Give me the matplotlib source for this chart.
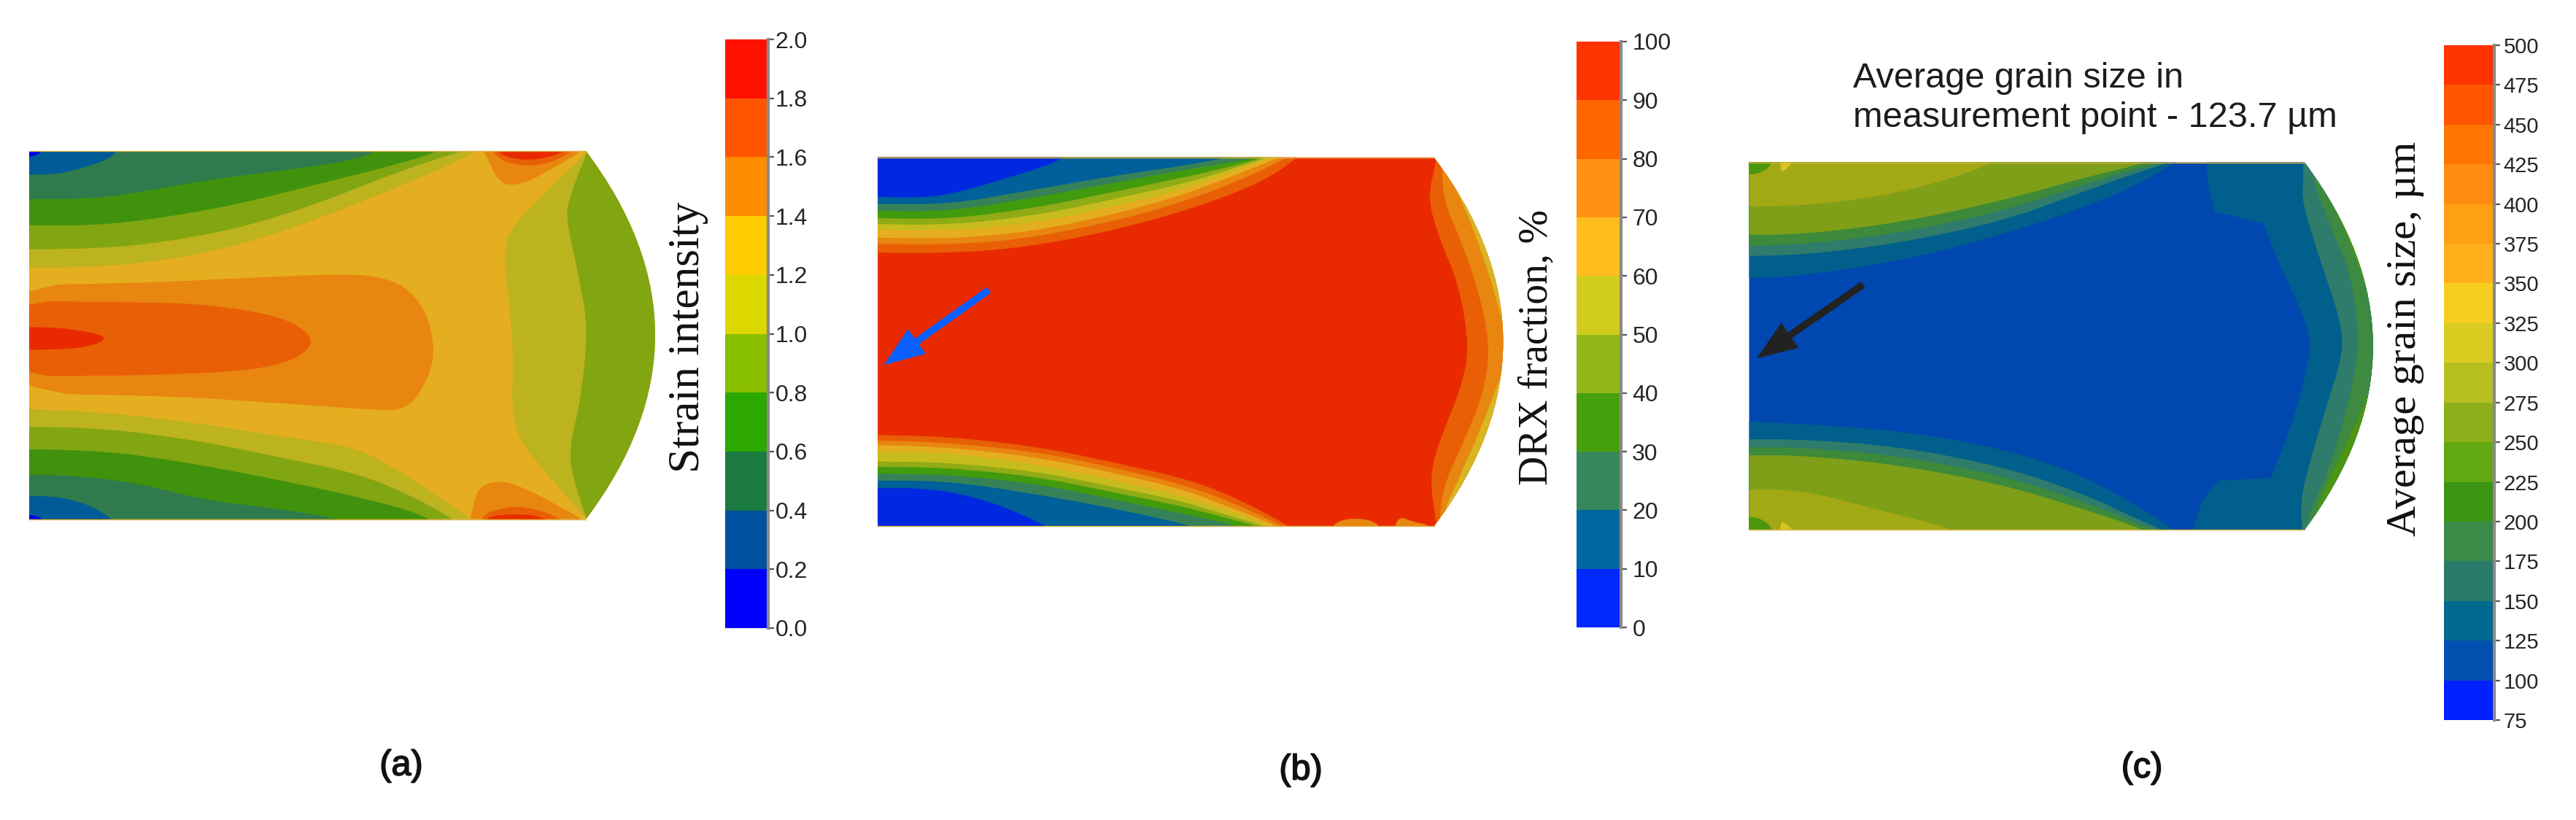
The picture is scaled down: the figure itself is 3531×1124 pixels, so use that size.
from __future__ import annotations

import matplotlib

matplotlib.use("Agg")

import matplotlib.patheffects as effects
import matplotlib.pyplot as plt
import numpy as np
from matplotlib.colors import ListedColormap
from matplotlib.patches import PathPatch, Polygon
from matplotlib.path import Path

WIDTH = 3531
HEIGHT = 1124
SANS = ["Liberation Sans", "DejaVu Sans"]
SERIF = ["Liberation Serif", "DejaVu Serif"]

RED = "#E92A00"
DK_ORANGE = "#E95F05"
ORANGE = "#E8860F"
YEL_ORANGE = "#E5AE20"
OLIVE = "#BDB31E"
OL_GREEN = "#82A512"
GREEN = "#40920C"
TEAL = "#2F7B4E"
BLUE = "#005B96"
DEEP_BLUE = "#0000F0"

# colour bars, listed from the lowest bin up
A_LEVELS = [0.0, 0.2, 0.4, 0.6, 0.8, 1.0, 1.2, 1.4, 1.6, 1.8, 2.0]
A_BAR_COLORS = ["#0000FF", "#0050A0", "#1A7A40", "#2CA800", "#88C000",
                "#DDD800", "#FFCC00", "#FF8C00", "#FF5500", "#FF1100"]
B_LEVELS = [0, 10, 20, 30, 40, 50, 60, 70, 80, 90, 100]
B_BAR_COLORS = ["#0028FF", "#0068A0", "#36885A", "#46A00C", "#92B818",
                "#D2CC1E", "#FFBE1E", "#FF9212", "#FF6600", "#FF3300"]
C_LEVELS = [75, 100, 125, 150, 175, 200, 225, 250, 275, 300, 325, 350, 375,
            400, 425, 450, 475, 500]
C_BAR_COLORS = ["#0020FF", "#0050B0", "#006A90", "#2A7A6A", "#3A8A48",
                "#3A9515", "#62A812", "#8CAF1A", "#B5C020", "#D9CB20",
                "#F5CE20", "#FFB01A", "#FFA015", "#FF8C10", "#FF7500",
                "#FF5500", "#FF3300"]

# panel outlines: left, top, right, bottom, apex of the curved end
A_OUTLINE = [57, 97, 1145, 1138, 1280]
B_OUTLINE = [33, 115, 1120, 1158, 1255]
C_OUTLINE = [24, 292, 1062, 1098, 1190]

# panel (a), contours
A_BASE = YEL_ORANGE
A_TOP_COLORS = [OLIVE, OL_GREEN, GREEN, TEAL, BLUE, DEEP_BLUE]
A_TOP_CURVES = [
    [(0, 428), (180, 425), (300, 410), (450, 370), (600, 300), (750, 215), (880, 135), (928, 97), (950, 60)],
    [(0, 375), (200, 372), (330, 352), (480, 310), (620, 245), (760, 165), (860, 115), (905, 97), (930, 60)],
    [(0, 305), (180, 308), (320, 285), (470, 245), (620, 190), (760, 140), (860, 97), (890, 60)],
    [(0, 232), (190, 232), (300, 205), (420, 175), (560, 150), (680, 125), (740, 97), (770, 60)],
    [(0, 160), (100, 165), (160, 145), (210, 120), (230, 97), (240, 60)],
    [(0, 115), (60, 115), (85, 97), (95, 60)],
]
A_BOTTOM_COLORS = [OLIVE, OL_GREEN, GREEN, TEAL, BLUE, DEEP_BLUE]
A_BOTTOM_CURVES = [
    [(0, 825), (200, 835), (400, 870), (550, 905), (700, 935), (800, 1020), (880, 1100), (920, 1138), (950, 1180)],
    [(0, 878), (200, 880), (400, 920), (550, 965), (700, 1010), (800, 1070), (885, 1138), (920, 1180)],
    [(0, 940), (200, 945), (350, 975), (500, 1015), (650, 1060), (780, 1105), (840, 1138), (880, 1180)],
    [(0, 1012), (150, 1015), (280, 1040), (400, 1085), (520, 1105), (670, 1138), (720, 1180)],
    [(0, 1075), (100, 1072), (170, 1095), (220, 1138), (240, 1180)],
    [(0, 1125), (60, 1125), (85, 1138), (95, 1180)],
]
A_RIGHT_COLORS = [OLIVE, OL_GREEN]
A_RIGHT_CURVES = [
    [(1190, 40), (1145, 105), (1060, 220), (990, 330), (985, 420), (995, 520), (1005, 700), (1000, 800), (1010, 900), (1045, 970), (1145, 1135), (1190, 1200)],
    [(1160, 40), (1145, 110), (1110, 240), (1108, 300), (1130, 440), (1150, 600), (1135, 800), (1113, 940), (1118, 1010), (1145, 1130), (1160, 1200)],
]
A_BLOB_COLORS = [ORANGE, DK_ORANGE, RED, ORANGE, DK_ORANGE, RED, ORANGE, DK_ORANGE, RED]
A_BLOBS = [
    [(0, 478), (300, 470), (500, 455), (680, 445), (750, 455), (800, 490), (835, 560), (848, 650), (842, 720), (812, 800), (780, 830), (730, 828), (550, 810), (350, 790), (0, 780)],
    [(0, 522), (250, 525), (400, 530), (550, 565), (610, 620), (602, 660), (560, 695), (470, 720), (250, 732), (0, 732)],
    [(0, 598), (100, 595), (170, 608), (212, 625), (175, 650), (100, 659), (0, 657)],
    [(935, 60), (950, 110), (970, 170), (990, 195), (1030, 185), (1080, 145), (1145, 90), (1145, 60)],
    [(955, 70), (965, 105), (990, 130), (1040, 140), (1090, 122), (1135, 80)],
    [(960, 70), (975, 105), (1015, 122), (1065, 118), (1125, 85)],
    [(915, 1180), (925, 1095), (940, 1040), (985, 1030), (1030, 1055), (1090, 1100), (1150, 1150), (1150, 1180)],
    [(935, 1170), (945, 1125), (975, 1110), (1010, 1102), (1060, 1115), (1110, 1150), (1115, 1170)],
    [(935, 1170), (950, 1132), (1000, 1124), (1060, 1130), (1095, 1170)],
]

# panel (b)
B_BASE = RED
B_TOP_COLORS = [DK_ORANGE, ORANGE, YEL_ORANGE, "#C7BC1E", "#8FAB15", "#429B0C", "#358258", "#00609A", "#0028E0"]
B_TOP_CURVES = [
    [(0, 383), (170, 385), (300, 372), (450, 335), (600, 280), (720, 222), (800, 170), (862, 105), (880, 70)],
    [(0, 358), (170, 362), (320, 345), (480, 300), (620, 245), (740, 180), (848, 105), (870, 70)],
    [(0, 340), (170, 345), (330, 325), (480, 280), (620, 225), (730, 165), (836, 105), (860, 70)],
    [(0, 318), (170, 322), (340, 300), (490, 255), (630, 205), (730, 150), (825, 105), (850, 70)],
    [(0, 302), (170, 306), (345, 278), (495, 232), (640, 185), (740, 140), (815, 105), (840, 70)],
    [(0, 285), (170, 290), (350, 255), (500, 210), (650, 165), (750, 130), (805, 105), (830, 70)],
    [(0, 265), (170, 268), (350, 225), (500, 185), (650, 145), (760, 120), (808, 100), (830, 70)],
    [(0, 245), (170, 248), (340, 205), (500, 165), (620, 140), (735, 110), (760, 70)],
    [(0, 225), (100, 228), (170, 222), (340, 150), (400, 115), (420, 70)],
]
B_BOTTOM_COLORS = [DK_ORANGE, ORANGE, YEL_ORANGE, "#C7BC1E", "#8FAB15", "#429B0C", "#358258", "#00609A", "#0028E0"]
B_BOTTOM_CURVES = [
    [(0, 900), (170, 905), (350, 935), (500, 980), (650, 1030), (750, 1090), (845, 1165), (870, 1200)],
    [(0, 915), (170, 922), (350, 950), (500, 995), (640, 1045), (740, 1100), (833, 1165), (860, 1200)],
    [(0, 928), (170, 935), (350, 965), (500, 1010), (630, 1055), (730, 1110), (825, 1165), (850, 1200)],
    [(0, 948), (170, 950), (350, 985), (500, 1030), (620, 1070), (720, 1115), (815, 1165), (840, 1200)],
    [(0, 975), (170, 978), (350, 1005), (500, 1050), (620, 1085), (710, 1125), (805, 1165), (830, 1200)],
    [(0, 990), (170, 993), (350, 1020), (500, 1065), (620, 1100), (700, 1130), (790, 1165), (815, 1200)],
    [(0, 1010), (170, 1012), (350, 1040), (500, 1085), (620, 1120), (760, 1165), (790, 1200)],
    [(0, 1030), (170, 1030), (350, 1070), (500, 1110), (670, 1165), (700, 1200)],
    [(0, 1052), (130, 1050), (250, 1085), (375, 1165), (395, 1200)],
]
B_RIGHT_COLORS = [DK_ORANGE, ORANGE, "#D9B522"]
B_RIGHT_CURVES = [
    [(1130, 60), (1125, 125), (1108, 230), (1130, 340), (1170, 480), (1190, 660), (1170, 780), (1130, 920), (1112, 1020), (1125, 1150), (1130, 1210)],
    [(1135, 60), (1135, 130), (1140, 240), (1170, 340), (1205, 480), (1230, 640), (1218, 780), (1175, 930), (1140, 1040), (1130, 1140), (1135, 1210)],
    [(1135, 60), (1135, 130), (1165, 210), (1195, 310), (1225, 430), (1270, 660), (1215, 870), (1170, 1020), (1135, 1130), (1135, 1210)],
]
B_BLOB_COLORS = [ORANGE, ORANGE]
B_BLOBS = [
    [(915, 1175), (930, 1145), (965, 1135), (1005, 1145), (1020, 1175)],
    [(1040, 1175), (1052, 1130), (1075, 1145), (1110, 1155), (1115, 1175)],
]

# panel (c)
C_BASE = "#0047B0"
C_TEAL_BLUE = "#005F8C"
C_TOP_COLORS = [C_TEAL_BLUE, "#2F7C6C", "#3C8A3A", "#7F9F18", "#A3A815"]
C_TOP_CURVES = [
    [(0, 545), (90, 545), (300, 510), (500, 450), (700, 370), (820, 295), (850, 260)],
    [(0, 497), (120, 495), (300, 470), (500, 420), (650, 355), (760, 310), (810, 292), (840, 260)],
    [(0, 475), (120, 472), (300, 448), (500, 398), (650, 340), (750, 305), (795, 292), (825, 260)],
    [(0, 450), (120, 450), (300, 425), (500, 375), (650, 325), (770, 292), (800, 260)],
    [(0, 390), (150, 385), (300, 360), (420, 320), (480, 292), (500, 260)],
]
C_BOTTOM_COLORS = [C_TEAL_BLUE, "#2F7C6C", "#3C8A3A", "#7F9F18", "#A3A815"]
C_BOTTOM_CURVES = [
    [(0, 860), (100, 865), (300, 880), (500, 920), (650, 980), (770, 1060), (820, 1100), (850, 1140)],
    [(0, 900), (120, 900), (300, 915), (500, 960), (650, 1020), (740, 1070), (800, 1100), (830, 1140)],
    [(0, 918), (120, 918), (300, 935), (500, 980), (645, 1035), (750, 1085), (785, 1100), (810, 1140)],
    [(0, 935), (120, 935), (300, 955), (500, 1000), (640, 1050), (770, 1100), (800, 1140)],
    [(0, 1010), (120, 1010), (250, 1050), (420, 1100), (440, 1140)],
]
C_RIGHT_COLORS = [C_TEAL_BLUE, "#2F7C6C", "#3D8A40", "#4D960F"]
C_RIGHT_CURVES = [
    [(880, 250), (880, 340), (895, 400), (895, 400), (985, 425), (985, 425), (1010, 500), (1065, 640), (1075, 700), (1050, 830), (1000, 985), (1000, 985), (905, 990), (905, 990), (870, 1030), (848, 1130)],
    [(1060, 260), (1060, 330), (1058, 380), (1090, 500), (1130, 640), (1135, 710), (1100, 840), (1060, 1000), (1055, 1060), (1062, 1130)],
    [(1075, 270), (1075, 320), (1110, 430), (1150, 540), (1165, 680), (1150, 800), (1110, 960), (1062, 1090), (1062, 1130)],
    [(1075, 270), (1085, 320), (1130, 420), (1170, 540), (1215, 695), (1165, 850), (1120, 960), (1075, 1080), (1070, 1130)],
]
C_BLOB_COLORS = ["#4D960F", "#D9C522", "#4D960F", "#D9C522", "#005F8C"]
C_BLOBS = [
    [(0, 270), (70, 270), (65, 300), (40, 318), (0, 318)],
    [(85, 270), (120, 270), (95, 305), (82, 315)],
    [(0, 1120), (70, 1120), (65, 1090), (40, 1070), (0, 1070)],
    [(85, 1120), (120, 1120), (95, 1085), (82, 1080)],
    [(850, 1120), (880, 1085), (950, 1085), (1000, 1120)],
]

A_TICK_LABELS = ["0.0", "0.2", "0.4", "0.6", "0.8", "1.0", "1.2", "1.4", "1.6", "1.8", "2.0"]
B_TICK_LABELS = ["0", "10", "20", "30", "40", "50", "60", "70", "80", "90", "100"]
C_TICK_LABELS = ["75", "100", "125", "150", "175", "200", "225", "250", "275", "300", "325",
                 "350", "375", "400", "425", "450", "475", "500"]


def pixel_axes(figure, x, y, w, h):
    return figure.add_axes([x / WIDTH, 1 - (y + h) / HEIGHT, w / WIDTH, h / HEIGHT])


def chaikin(points, rounds=2):
    # corner cutting so the hand-read contours do not look like polylines
    pts = np.asarray(points, dtype=float)
    for _ in range(rounds):
        nxt = np.roll(pts, -1, axis=0)
        pts = np.column_stack(
            [0.75 * pts + 0.25 * nxt, 0.25 * pts + 0.75 * nxt]
        ).reshape(-1, 2)
    return pts


def draw_map(figure, crop, outline, base, layers, blobs):
    axis = pixel_axes(figure, *crop)
    axis.set_xlim(0, 1568)
    axis.set_ylim(1568, 0)
    axis.axis("off")
    axis.patch.set_alpha(0)

    left, top, right, bottom, apex = outline
    control = 2 * apex - right
    shape = Path(
        [(left, top), (right, top), (control, (top + bottom) / 2), (right, bottom), (left, bottom), (left, top)],
        [Path.MOVETO, Path.LINETO, Path.CURVE3, Path.CURVE3, Path.LINETO, Path.CLOSEPOLY],
    )
    ground = PathPatch(shape, facecolor=base, edgecolor="none", zorder=1)
    axis.add_patch(ground)

    order = 2
    for side, curves, colors in layers:
        for curve, color in zip(curves, colors, strict=True):
            if side == "top":
                ring = [(-300, curve[0][1])] + curve + [(curve[-1][0], -300), (-300, -300)]
            elif side == "bottom":
                ring = [(-300, curve[0][1])] + curve + [(curve[-1][0], 1900), (-300, 1900)]
            else:
                ring = curve + [(curve[-1][0], 1900), (1900, 1900), (1900, -300), (curve[0][0], -300)]
            patch = Polygon(chaikin(ring), closed=True, facecolor=color, edgecolor=color, linewidth=0.5, zorder=order)
            axis.add_patch(patch)
            patch.set_clip_path(ground)
            order += 1
    for ring, color in blobs:
        patch = Polygon(chaikin(ring), closed=True, facecolor=color, edgecolor=color, linewidth=0.5, zorder=order)
        axis.add_patch(patch)
        patch.set_clip_path(ground)
        order += 1
    # thin yellowish seam along the flat edges only
    axis.plot([left, right], [top, top], color="#DDB040", linewidth=1.0, zorder=order)
    axis.plot([left, right], [bottom, bottom], color="#DDB040", linewidth=1.0, zorder=order)
    return axis


def draw_bar(figure, rect, levels, colors, labels, fontsize, pad):
    axis = pixel_axes(figure, *rect)
    axis.pcolormesh(
        [0, 1],
        levels,
        np.arange(len(colors)).reshape(-1, 1),
        cmap=ListedColormap(colors),
        shading="flat",
    )
    axis.set_ylim(levels[0], levels[-1])
    axis.set_xticks([])
    axis.yaxis.tick_right()
    axis.set_yticks(levels, labels, family=SANS, fontsize=fontsize, color="#262626")
    axis.tick_params(axis="y", length=6, width=1.6, color="#555555", pad=pad)
    for name in ("left", "top", "bottom"):
        axis.spines[name].set_visible(False)
    axis.spines["right"].set_color("#8A8A8A")
    axis.spines["right"].set_linewidth(3)
    return axis


def put_text(figure, x, y, text, **kwargs):
    return figure.text(x / WIDTH, 1 - y / HEIGHT, text, **kwargs)


def main():
    figure = plt.figure(figsize=(WIDTH / 100, HEIGHT / 100), dpi=100, facecolor="white")

    draw_map(
        figure,
        (0, 160, 1100, 760),
        A_OUTLINE,
        A_BASE,
        [("top", A_TOP_CURVES, A_TOP_COLORS), ("bottom", A_BOTTOM_CURVES, A_BOTTOM_COLORS), ("right", A_RIGHT_CURVES, A_RIGHT_COLORS)],
        list(zip(A_BLOBS, A_BLOB_COLORS, strict=True)),
    )
    axis_b = draw_map(
        figure,
        (1180, 160, 1100, 760),
        B_OUTLINE,
        B_BASE,
        [("top", B_TOP_CURVES, B_TOP_COLORS), ("bottom", B_BOTTOM_CURVES, B_BOTTOM_COLORS), ("right", B_RIGHT_CURVES, B_RIGHT_COLORS)],
        list(zip(B_BLOBS, B_BLOB_COLORS, strict=True)),
    )
    axis_c = draw_map(
        figure,
        (2380, 40, 1150, 980),
        C_OUTLINE,
        C_BASE,
        [("right", C_RIGHT_CURVES, C_RIGHT_COLORS), ("top", C_TOP_CURVES, C_TOP_COLORS), ("bottom", C_BOTTOM_CURVES, C_BOTTOM_COLORS)],
        list(zip(C_BLOBS, C_BLOB_COLORS, strict=True)),
    )

    axis_b.annotate(
        "",
        xy=(45, 702),
        xytext=(250, 490),
        arrowprops=dict(width=7, headwidth=30, headlength=40, color="#0A5FFF", shrink=0, linewidth=0),
        zorder=60,
    )
    axis_c.annotate(
        "",
        xy=(38, 722),
        xytext=(237, 560),
        arrowprops=dict(width=7, headwidth=30, headlength=40, color="#222222", shrink=0, linewidth=0),
        zorder=60,
    )

    draw_bar(figure, (994, 54, 59, 807), A_LEVELS, A_BAR_COLORS, A_TICK_LABELS, 23, 1)
    draw_bar(figure, (2161, 57, 61, 803), B_LEVELS, B_BAR_COLORS, B_TICK_LABELS, 23, 5)
    draw_bar(figure, (3350, 62, 69, 925), C_LEVELS, C_BAR_COLORS, C_TICK_LABELS, 21, 3)

    serif = dict(family=SERIF, rotation=90, ha="center", va="center", color="#111111")
    put_text(figure, 943, 462, "Strain intensity", fontsize=44, **serif)
    put_text(figure, 2106, 476, "DRX fraction, %", fontsize=40, **serif)
    put_text(figure, 3297, 464, "Average grain size, µm", fontsize=42, **serif)

    note = dict(family=SANS, fontsize=35, ha="left", va="center", color="#1C1C1C")
    put_text(figure, 2540, 107, "Average grain size in", **note)
    put_text(figure, 2540, 162, "measurement point - 123.7 µm", **note)

    panel = dict(family=SANS, fontsize=35, ha="center", va="center", color="#111111")
    for x, y, text in ((550, 1050, "(a)"), (1783, 1056, "(b)"), (2936, 1053, "(c)")):
        label = put_text(figure, x, y, text, **panel)
        label.set_path_effects([effects.withStroke(linewidth=1.2, foreground="#111111")])

    figure.savefig("out.png", dpi=100, facecolor="white")
    plt.close(figure)


if __name__ == "__main__":
    main()
